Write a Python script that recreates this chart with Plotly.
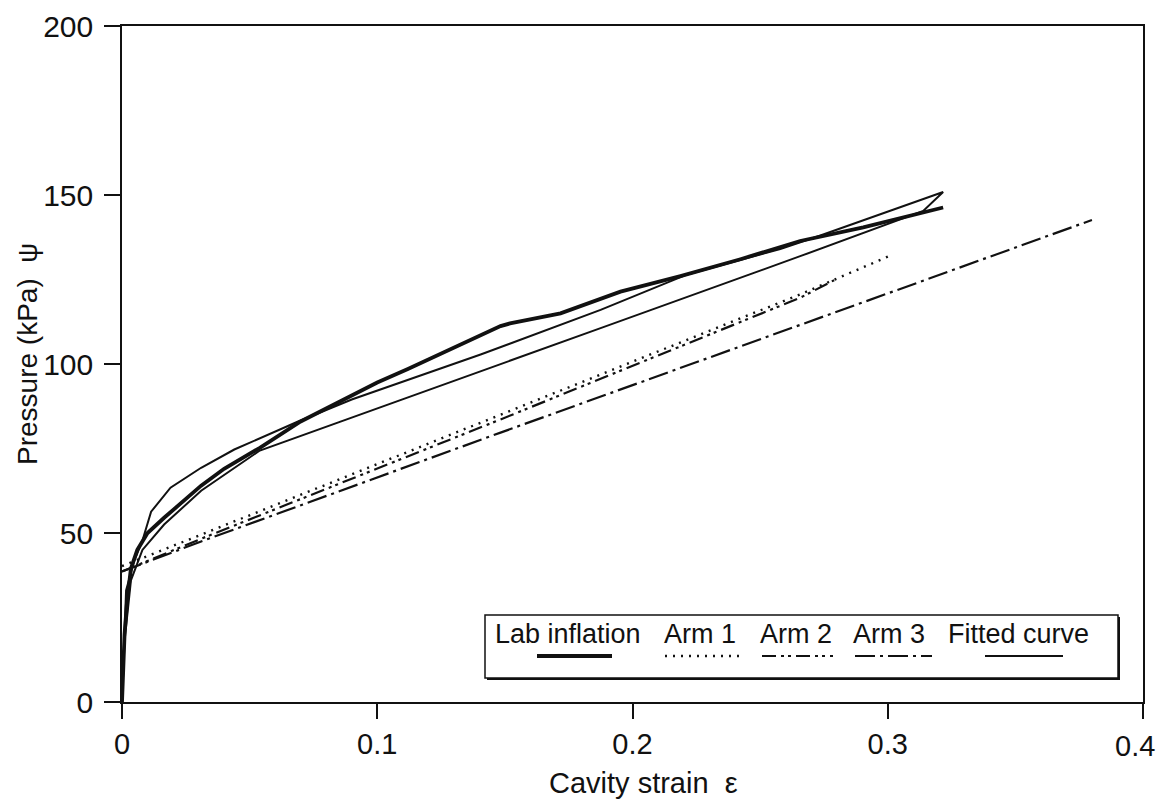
import plotly.graph_objects as go

# ---------------- data ----------------
lab_x = [0, 0.0005, 0.001, 0.002, 0.0035, 0.006, 0.01, 0.0165, 0.025, 0.031, 0.04,
         0.054, 0.07, 0.086, 0.1, 0.112, 0.135, 0.1483, 0.152, 0.1718,
         0.1953, 0.2188, 0.2423, 0.2657, 0.2904, 0.3217]
lab_y = [0, 10, 20, 30, 39.5, 45, 50, 54.5, 60, 64, 69,
         75.2, 83, 89, 94.5, 98.5, 106.4, 111.2, 112.0, 115.0,
         121.4, 126, 131, 136.4, 140.4, 146.3]

fit_x = [0, 0.0005, 0.0016, 0.0047, 0.0081, 0.0114, 0.019, 0.031, 0.044, 0.069,
         0.09, 0.1405, 0.1875, 0.2215, 0.2579, 0.2736, 0.3217, 0.3139, 0.2657,
         0.1875, 0.1405, 0.1, 0.054, 0.031, 0.0165, 0.008, 0.0035, 0.001, 0]
fit_y = [0, 12, 33, 41.5, 48, 56.3, 63.4, 69.3, 74.7, 83,
         89.5, 102.8, 116, 126.5, 134, 138, 150.9, 145.3, 131.9,
         110.6, 97.9, 86.9, 74.4, 62.5, 52.5, 45, 36, 18, 0]

arm1_x = [0, 0.031, 0.1483, 0.2657, 0.302]
arm1_y = [40.2, 49.5, 85.0, 120.6, 132.4]

arm2_x = [0, 0.031, 0.1483, 0.2657, 0.279]
arm2_y = [38.6, 48.3, 83.6, 119.6, 124.8]

arm3_x = [0, 0.031, 0.1483, 0.2657, 0.38]
arm3_y = [38.6, 47.5, 79.7, 111.5, 142.6]

x_ticks = [0, 0.1, 0.2, 0.3, 0.4]
x_ticklabels = ["0", "0.1", "0.2", "0.3", "0.4"]
y_ticks = [0, 50, 100, 150, 200]
y_ticklabels = ["0", "50", "100", "150", "200"]

x_title = "Cavity strain\u00a0\u00a0ε"
y_title = "Pressure (kPa)\u00a0\u00a0ψ"
legend_names = ["Lab inflation", "Arm 1", "Arm 2", "Arm 3", "Fitted curve"]

# ---------------- styles ----------------
INK = "#111111"
FONT = "Liberation Sans, Arial, Helvetica, sans-serif"
styles = {
    "Lab inflation": dict(width=3.8, dash="solid"),
    "Arm 1": dict(width=2.4, dash="2px,6px"),
    "Arm 2": dict(width=2.2, dash="14px,5px,3px,4px,3px,5px"),
    "Arm 3": dict(width=2.2, dash="20px,5px,3px,5px"),
    "Fitted curve": dict(width=2.0, dash="solid"),
}

series = [
    ("Arm 1", arm1_x, arm1_y),
    ("Arm 2", arm2_x, arm2_y),
    ("Arm 3", arm3_x, arm3_y),
    ("Fitted curve", fit_x, fit_y),
    ("Lab inflation", lab_x, lab_y),
]

fig = go.Figure()
for name, xs, ys in series:
    st = styles[name]
    fig.add_trace(go.Scatter(x=xs, y=ys, mode="lines", name=name, showlegend=False,
                             line=dict(color=INK, width=st["width"], dash=st["dash"])))

# ---------------- axes ----------------
L, R, T, B = 122, 16, 26, 97
W, H = 1159, 799
fig.update_layout(
    width=W, height=H,
    margin=dict(l=L, r=R, t=T, b=B, pad=0, autoexpand=False),
    paper_bgcolor="white", plot_bgcolor="white",
    font=dict(family=FONT, color=INK),
)
# the last x label sits at the page edge, so it is placed as right-anchored text below
fig.update_xaxes(
    range=[0, 0.4], tickvals=x_ticks, ticktext=x_ticklabels[:-1] + [""],
    showgrid=False, zeroline=False, automargin=False,
    showline=True, linecolor=INK, linewidth=1.6, mirror=True,
    ticks="outside", ticklen=15, tickwidth=1.5, tickcolor=INK,
    tickfont=dict(size=29, family=FONT, color=INK),
)
fig.update_yaxes(
    range=[0, 200], tickvals=y_ticks, ticktext=y_ticklabels,
    showgrid=False, zeroline=False, automargin=False,
    showline=True, linecolor=INK, linewidth=1.6, mirror=True,
    ticks="outside", ticklen=16, tickwidth=1.5, tickcolor=INK,
    ticklabeloverflow="allow", ticklabelstandoff=5,
    tickfont=dict(size=30, family=FONT, color=INK),
)

pw = W - L - R
ph = H - T - B
def px(xp):
    return (xp - L) / pw
def py(yp):
    return (T + ph - yp) / ph

fig.add_annotation(xref="paper", yref="paper", x=px(1157), y=py(746), text=x_ticklabels[-1],
                   showarrow=False, xanchor="right", yanchor="middle",
                   font=dict(size=29, family=FONT, color=INK))

# axis titles placed as text annotations
fig.add_annotation(xref="paper", yref="paper", x=px(643), y=py(783), text=x_title,
                   showarrow=False, xanchor="center", yanchor="middle",
                   font=dict(size=29, family=FONT, color=INK))
fig.add_annotation(xref="paper", yref="paper", x=px(27), y=py(354), text=y_title,
                   showarrow=False, xanchor="center", yanchor="middle", textangle=-90,
                   font=dict(size=28, family=FONT, color=INK))

# ---------------- custom legend (text above, sample line below) ----------------
box = (485, 615, 1118, 678)
fig.add_shape(type="rect", xref="paper", yref="paper",
              x0=px(box[0] + 2), x1=px(box[2] + 2), y0=py(box[3] + 2), y1=py(box[1] + 2),
              fillcolor=INK, line=dict(width=0))
fig.add_shape(type="rect", xref="paper", yref="paper",
              x0=px(box[0]), x1=px(box[2]), y0=py(box[3]), y1=py(box[1]),
              fillcolor="white", line=dict(color=INK, width=1.5))

legend_text_cx = [568, 700, 796, 889, 1018]
legend_line_x = [(537, 612), (665, 745), (762, 833), (855, 932), (985, 1063)]
for name, cx, (lx0, lx1) in zip(legend_names, legend_text_cx, legend_line_x):
    st = styles[name]
    fig.add_annotation(xref="paper", yref="paper", x=px(cx), y=py(634), text=name,
                       showarrow=False, xanchor="center", yanchor="middle",
                       font=dict(size=27, family=FONT, color=INK))
    fig.add_shape(type="line", xref="paper", yref="paper",
                  x0=px(lx0), x1=px(lx1), y0=py(656), y1=py(656),
                  line=dict(color=INK, width=st["width"], dash=st["dash"]))

fig.write_html("out.html")
